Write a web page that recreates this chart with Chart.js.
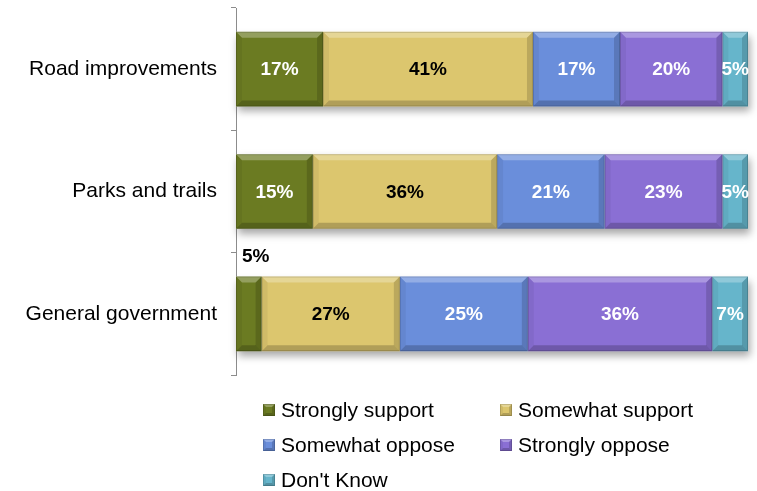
<!DOCTYPE html>
<html>
<head>
<meta charset="utf-8">
<script src="https://cdn.jsdelivr.net/npm/chart.js@4.4.1/dist/chart.umd.min.js"></script>
<style>
  html, body { margin: 0; padding: 0; background: #fff; }
  #wrap { position: relative; width: 757px; height: 491px; }
</style>
</head>
<body>
<div id="wrap"><canvas id="chart" width="757" height="491"></canvas></div>
<script>
// Survey responses per spending area, in percent
const CATEGORIES       = ['Road improvements', 'Parks and trails', 'General government'];
const STRONGLY_SUPPORT = [17, 15, 5];
const SOMEWHAT_SUPPORT = [41, 36, 27];
const SOMEWHAT_OPPOSE  = [17, 21, 25];
const STRONGLY_OPPOSE  = [20, 23, 36];
const DONT_KNOW        = [5, 5, 7];

const SERIES_NAMES  = ['Strongly support', 'Somewhat support', 'Somewhat oppose', 'Strongly oppose', "Don't Know"];
const SERIES_VALUES = [STRONGLY_SUPPORT, SOMEWHAT_SUPPORT, SOMEWHAT_OPPOSE, STRONGLY_OPPOSE, DONT_KNOW];
const SERIES_COLORS = ['#6b7b22', '#dcc66e', '#6a8edb', '#8a6fd4', '#66b5cb'];
const LABEL_COLORS  = ['#fff', '#000', '#fff', '#fff', '#fff'];

const FONT = '"Liberation Sans", Arial, sans-serif';
const AXIS_GREY = '#8c8c8c';

// bevelled rectangle: light top, darker right/bottom
function bevel(ctx, l, t, r, b, size) {
  const s = Math.min(size, (r - l) / 2, (b - t) / 2);
  const poly = (pts, fill) => {
    ctx.beginPath();
    ctx.moveTo(pts[0][0], pts[0][1]);
    for (let i = 1; i < pts.length; i++) ctx.lineTo(pts[i][0], pts[i][1]);
    ctx.closePath();
    ctx.fillStyle = fill;
    ctx.fill();
  };
  poly([[l, t], [r, t], [r - s, t + s], [l + s, t + s]], 'rgba(255,255,255,0.28)');
  poly([[l, b], [r, b], [r - s, b - s], [l + s, b - s]], 'rgba(0,0,0,0.20)');
  poly([[l, t], [l + s, t + s], [l + s, b - s], [l, b]], 'rgba(0,0,0,0.05)');
  poly([[r, t], [r - s, t + s], [r - s, b - s], [r, b]], 'rgba(0,0,0,0.15)');
  ctx.strokeStyle = 'rgba(0,0,0,0.15)';
  ctx.lineWidth = 1;
  ctx.strokeRect(l + 0.5, t + 0.5, r - l - 1, b - t - 1);
}

function segRect(el) {
  const p = el.getProps(['x', 'y', 'base', 'height'], true);
  return {
    l: Math.min(p.x, p.base), r: Math.max(p.x, p.base),
    t: p.y - p.height / 2, b: p.y + p.height / 2, cy: p.y
  };
}

// soft drop shadow under each full stacked bar
const barShadow = {
  id: 'barShadow',
  beforeDatasetsDraw(chart) {
    const ctx = chart.ctx;
    const first = chart.getDatasetMeta(0).data;
    const last = chart.getDatasetMeta(SERIES_NAMES.length - 1).data;
    ctx.save();
    first.forEach((el, i) => {
      const a = segRect(el), z = segRect(last[i]);
      ctx.shadowColor = 'rgba(0,0,0,0.35)';
      ctx.shadowBlur = 8;
      ctx.shadowOffsetX = 2;
      ctx.shadowOffsetY = 5;
      ctx.fillStyle = '#fff';
      ctx.fillRect(a.l, a.t, z.r - a.l, a.b - a.t);
    });
    ctx.restore();
  }
};

// bevel overlay and percentage labels
const barDecor = {
  id: 'barDecor',
  afterDatasetsDraw(chart) {
    const ctx = chart.ctx;
    ctx.save();
    chart.data.datasets.forEach((ds, di) => {
      chart.getDatasetMeta(di).data.forEach(el => {
        const r = segRect(el);
        bevel(ctx, r.l, r.t, r.r, r.b, 6);
      });
    });
    ctx.font = 'bold 19px ' + FONT;
    ctx.textBaseline = 'middle';
    chart.data.datasets.forEach((ds, di) => {
      chart.getDatasetMeta(di).data.forEach((el, i) => {
        const r = segRect(el);
        const v = ds.data[i];
        const txt = v + '%';
        if (di === 0 && v < 10) {
          // too narrow: put it above the bar
          ctx.fillStyle = '#000';
          ctx.textAlign = 'left';
          ctx.fillText(txt, r.l + 6, r.t - 20);
        } else {
          ctx.fillStyle = LABEL_COLORS[di];
          ctx.textAlign = 'center';
          ctx.fillText(txt, (r.l + r.r) / 2, r.cy + 1);
        }
      });
    });
    ctx.restore();
  }
};

// two-column legend under the plot
const gridLegend = {
  id: 'gridLegend',
  afterDraw(chart) {
    const ctx = chart.ctx;
    const colX = [263, 500];
    const rowY = [410, 445, 480];
    ctx.save();
    ctx.font = '21px ' + FONT;
    ctx.textBaseline = 'middle';
    ctx.textAlign = 'left';
    SERIES_NAMES.forEach((name, i) => {
      const x = colX[i % 2], y = rowY[Math.floor(i / 2)];
      ctx.fillStyle = SERIES_COLORS[i];
      ctx.fillRect(x, y - 6, 12, 12);
      bevel(ctx, x, y - 6, x + 12, y + 6, 3);
      ctx.fillStyle = '#000';
      ctx.fillText(name, x + 18, y + 1);
    });
    ctx.restore();
  }
};

new Chart(document.getElementById('chart'), {
  type: 'bar',
  data: {
    labels: CATEGORIES,
    datasets: SERIES_NAMES.map((name, i) => ({
      label: name,
      data: SERIES_VALUES[i],
      backgroundColor: SERIES_COLORS[i],
      borderWidth: 0,
      barPercentage: 0.61,
      categoryPercentage: 1
    }))
  },
  options: {
    indexAxis: 'y',
    responsive: false,
    animation: false,
    layout: { padding: { top: 8, right: 9, bottom: 116, left: 0 } },
    plugins: { legend: { display: false }, tooltip: { enabled: false } },
    scales: {
      x: { stacked: true, min: 0, max: 100, display: false },
      y: {
        stacked: true,
        afterFit: s => { s.width = 236; s.paddingTop = 0; s.paddingBottom = 0; },
        border: { display: true, color: AXIS_GREY, width: 1 },
        grid: { drawOnChartArea: false, drawTicks: true, tickLength: 5, color: AXIS_GREY },
        ticks: { padding: 14, color: '#000', font: { family: FONT, size: 21 } }
      }
    }
  },
  plugins: [barShadow, barDecor, gridLegend]
});
</script>
</body>
</html>
